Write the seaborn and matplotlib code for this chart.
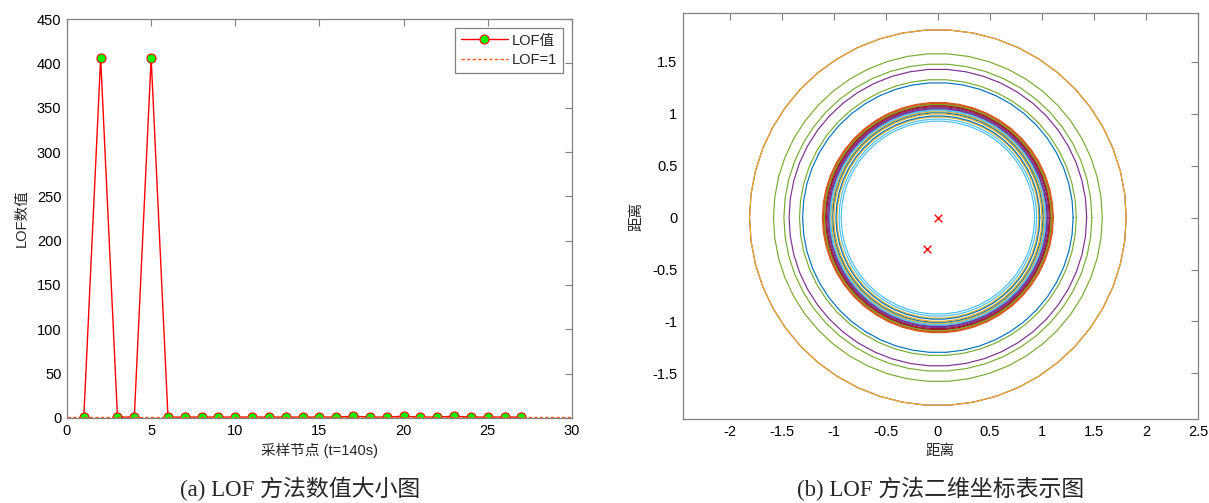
import numpy as np
import pandas as pd
import matplotlib
matplotlib.use("Agg")
import matplotlib.pyplot as plt
from matplotlib.lines import Line2D
import seaborn as sns

# ---------------- data ----------------
sample_idx = list(range(1, 28))
lof_values = [1, 406, 1, 1, 406, 1, 1, 1, 1, 1, 1, 1, 1, 1, 1, 1, 2, 1, 1, 2,
              1, 1, 2, 1, 1, 1, 1]
lof_ref = 1
left_xticks = [0, 5, 10, 15, 20, 25, 30]
left_yticks = [0, 50, 100, 150, 200, 250, 300, 350, 400, 450]

circle_radii = [1.30, 1.10, 0.97, 1.81, 1.58, 0.93, 1.08, 1.05, 1.11, 1.81,
                1.43, 1.48, 1.03, 1.07, 0.98, 1.09, 1.02, 1.06, 1.33, 1.04,
                1.08, 1.01, 1.10, 1.00, 1.05, 1.09, 0.95]
center_x = [0.0, -0.10]
center_y = [0.0, -0.30]
right_xticks = [-2, -1.5, -1, -0.5, 0, 0.5, 1, 1.5, 2, 2.5]
right_yticks = [-1.5, -1, -0.5, 0, 0.5, 1, 1.5]

matlab_colors = ["#0072BD", "#D95319", "#EDB120", "#7E2F8E",
                 "#77AC30", "#4DBEEE", "#A2142F"]

# ---------------- style ----------------
sns.set_theme(style="white")
plt.rcParams['font.family'] = ['Liberation Sans', 'Noto Sans CJK SC', 'DejaVu Sans']
plt.rcParams['axes.unicode_minus'] = False

fig = plt.figure(figsize=(12.09, 5.03), dpi=100)
axL = fig.add_axes([0.0554, 0.169, 0.4177, 0.7932])
axR = fig.add_axes([0.5649, 0.167, 0.4260, 0.8070])

frame_col = "#808080"
for ax in (axL, axR):
    for s in ax.spines.values():
        s.set_color(frame_col)
        s.set_linewidth(0.9)
    ax.tick_params(direction='in', length=5, width=0.8, color=frame_col,
                   top=True, right=True, labelsize=10.5, labelcolor='black',
                   pad=4)

# ---------------- left panel ----------------
line_kw = dict(color="#FF0000", linewidth=1.0, marker="o", markersize=6.5,
               markerfacecolor="#00FF00", markeredgecolor="#FF0000",
               markeredgewidth=0.8)
ref_kw = dict(color="#FF5A1E", linewidth=1.0, linestyle=(0, (2.5, 1.5)))
df = pd.DataFrame({"x": sample_idx, "y": lof_values})
sns.lineplot(data=df, x="x", y="y", ax=axL, **line_kw)
ref_df = pd.DataFrame({"x": [0, 30], "y": [lof_ref, lof_ref]})
sns.lineplot(data=ref_df, x="x", y="y", ax=axL, **ref_kw)
axL.set_xlim(0, 30)
axL.set_ylim(0, 450)
axL.set_xticks(left_xticks)
axL.set_yticks(left_yticks)
axL.set_xlabel("采样节点 (t=140s)", fontsize=10.5, labelpad=4)
axL.set_ylabel("LOF数值", fontsize=10.5, labelpad=6)
handles = [Line2D([0], [0], **line_kw), Line2D([0], [0], **ref_kw)]
leg = axL.legend(handles, ["LOF值", "LOF=1"], loc="upper right",
                 fontsize=10.5, frameon=True,
                 fancybox=False, edgecolor="#808080", framealpha=1,
                 borderpad=0.4, handlelength=3.2, handletextpad=0.3,
                 labelspacing=0.35, borderaxespad=0.6)
leg.get_frame().set_linewidth(0.9)

# ---------------- right panel ----------------
theta = np.linspace(0, 2 * np.pi, 51)
for i, r in enumerate(circle_radii):
    cdf = pd.DataFrame({"x": r * np.cos(theta), "y": r * np.sin(theta)})
    sns.lineplot(data=cdf, x="x", y="y", ax=axR, sort=False,
                 color=matlab_colors[i % 7], linewidth=0.85, estimator=None)
cpts = pd.DataFrame({"x": center_x, "y": center_y})
sns.scatterplot(data=cpts, x="x", y="y", ax=axR, marker="x", color="red",
                s=30, linewidth=1.0)
axR.set_xlim(-2.45, 2.5)
axR.set_ylim(-1.94, 1.97)
axR.set_xticks(right_xticks)
axR.set_yticks(right_yticks)
axR.set_xticklabels([f"{v:g}" for v in right_xticks])
axR.set_yticklabels([f"{v:g}" for v in right_yticks])
axR.set_xlabel("距离", fontsize=10.5, labelpad=4)
axR.set_ylabel("距离", fontsize=10.5, labelpad=6)

# ---------------- captions ----------------
cap_font = ['Liberation Serif', 'Noto Sans CJK SC']
fig.text(0.248, 0.004, "(a) LOF 方法数值大小图", ha="center", va="bottom",
         fontsize=16.5, family=cap_font)
fig.text(0.778, 0.004, "(b) LOF 方法二维坐标表示图", ha="center", va="bottom",
         fontsize=16.5, family=cap_font)

fig.savefig("out.png", dpi=100)
